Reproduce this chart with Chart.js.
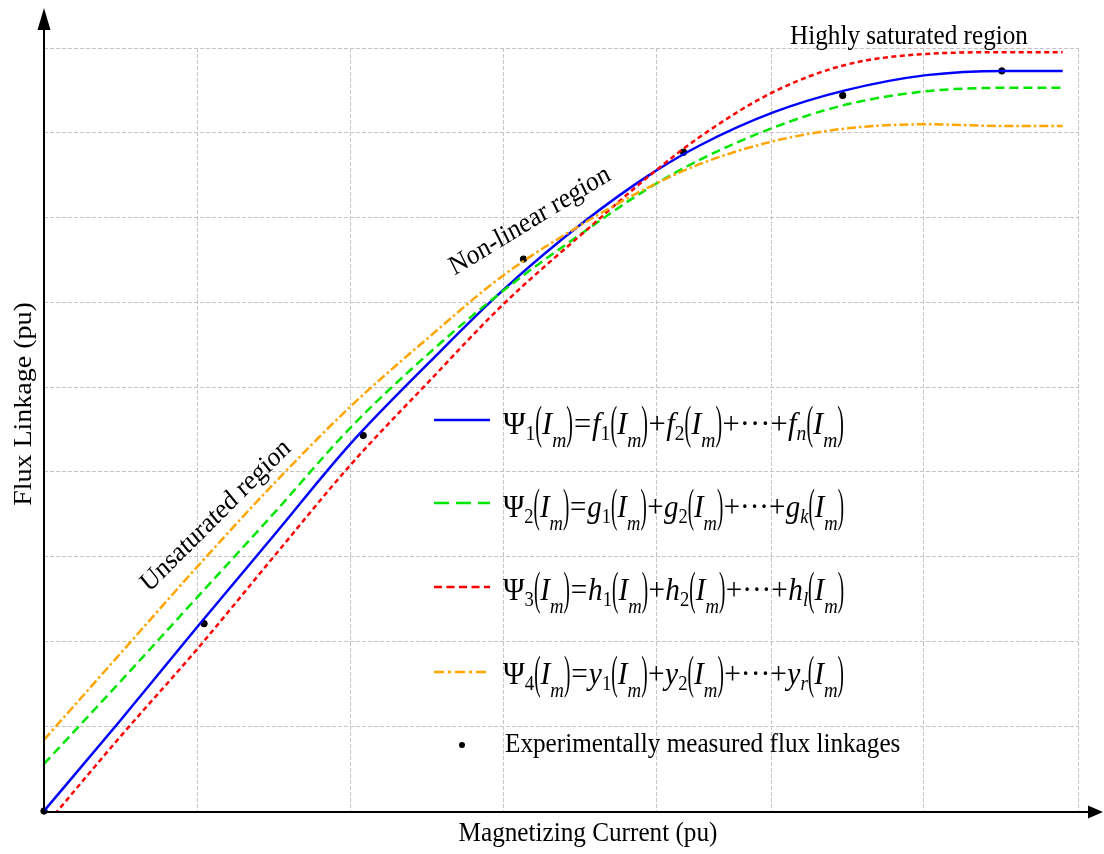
<!DOCTYPE html>
<html>
<head>
<meta charset="utf-8">
<script src="https://cdn.jsdelivr.net/npm/chart.js@4.4.0/dist/chart.umd.min.js"></script>
<style>
  html, body { margin: 0; padding: 0; background: #fff; }
  canvas { display: block; }
</style>
</head>
<body>
<canvas id="fluxChart" width="1104" height="854"></canvas>
<script>
// magnetizing current samples shared by all four fitted curves
const currentValues = [0, 0.49, 1.0, 1.5, 2.0, 2.52, 3.0, 3.54, 3.95, 4.28, 4.76, 5.23, 5.76, 6.27, 6.65];

const psi1Values = [0, 1.05, 2.17, 3.25, 4.33, 5.30, 6.15, 6.97, 7.50, 7.85, 8.24, 8.50, 8.68, 8.73, 8.73];
const psi2Values = [0.555, 1.51, 2.52, 3.51, 4.52, 5.41, 6.14, 6.85, 7.35, 7.68, 8.06, 8.33, 8.49, 8.53, 8.53];
const psi3Values = [-0.19, 0.86, 1.91, 3.0, 4.08, 5.08, 5.98, 6.85, 7.49, 7.95, 8.48, 8.80, 8.93, 8.95, 8.95];
const psi4Values = [0.84, 1.84, 2.88, 3.86, 4.77, 5.60, 6.32, 6.95, 7.36, 7.63, 7.90, 8.05, 8.10, 8.08, 8.08];

// experimentally measured flux linkages
const measuredCurrent = [0, 1.045, 2.084, 3.13, 4.175, 5.214, 6.253];
const measuredFlux = [0, 2.21, 4.43, 6.51, 7.77, 8.44, 8.73];

// grid positions (no tick labels are shown)
const xGridTicks = [0, 1, 2, 3, 4, 4.75, 5.74, 6.75];
const yGridTicks = [0, 1, 2, 3, 4, 5, 6, 7, 8, 9];

const SERIF = "'Liberation Serif', 'Times New Roman', serif";
const SQUEEZE = 0.9;

const toPoints = (xs, ys) => ys.map((y, i) => ({ x: xs[i], y: y }));

function squeezedText(ctx, text, x, y, angle, size, align, baseline) {
  ctx.save();
  ctx.translate(x, y);
  ctx.scale(SQUEEZE, 1);
  ctx.rotate(angle);
  ctx.font = size + 'px ' + SERIF;
  ctx.fillStyle = '#000';
  ctx.textAlign = align || 'left';
  ctx.textBaseline = baseline || 'alphabetic';
  ctx.fillText(text, 0, 0);
  ctx.restore();
}

// formula tokens: plain text, subscripts and tall parentheses
const T = (s, it, pad) => ({ s: s, it: !!it, pad: pad || 0 });
const S = (s, it, dy) => ({ s: s, it: !!it, sub: true, dy: dy });
const P = (s) => ({ s: s, paren: true });

function formulaTokens(idx, fn, lastSub) {
  const im = () => [P('('), T('I', true), S('m', true, 0.4), P(')')];
  return [
    T('\u03A8'), S(idx, false, 0.2), ...im(), T('=', false, 1),
    T(fn, true), S('1', false, 0.2), ...im(), T('+', false, 0.5),
    T(fn, true), S('2', false, 0.2), ...im(), T('+\u00B7\u00B7\u00B7+', false, 0.5),
    T(fn, true), S(lastSub, true, 0.2), ...im()
  ];
}

function drawFormula(ctx, tokens, x, baseline, targetWidth) {
  const F = 32;
  const PX = 0.45;
  const fontOf = (t) => {
    if (t.paren) return (F * 1.45) + 'px ' + SERIF;
    const size = t.sub ? F * 0.64 : F;
    return (t.it ? 'italic ' : '') + size + 'px ' + SERIF;
  };
  let total = 0;
  tokens.forEach((t) => {
    ctx.font = fontOf(t);
    t.w = ctx.measureText(t.s).width * (t.paren ? PX : 1) + 2 * (t.pad || 0);
    total += t.w;
  });
  ctx.save();
  ctx.translate(x, baseline);
  ctx.scale(targetWidth / total, 1);
  ctx.fillStyle = '#000';
  ctx.textBaseline = 'alphabetic';
  ctx.textAlign = 'left';
  let cx = 0;
  tokens.forEach((t) => {
    ctx.font = fontOf(t);
    if (t.paren) {
      ctx.save();
      ctx.translate(cx, 4);
      ctx.scale(PX, 1);
      ctx.fillText(t.s, 0, 0);
      ctx.restore();
    } else {
      ctx.fillText(t.s, cx + (t.pad || 0), t.sub ? F * t.dy : 0);
    }
    cx += t.w;
  });
  ctx.restore();
}

const decorPlugin = {
  id: 'decor',
  afterDraw(chart) {
    const ctx = chart.ctx;
    const area = chart.chartArea;
    const ax = area.left;
    const ay = area.bottom + 1;

    // axes with arrow heads
    ctx.save();
    ctx.strokeStyle = '#000';
    ctx.fillStyle = '#000';
    ctx.lineWidth = 2;
    ctx.beginPath();
    ctx.moveTo(ax, ay + 1);
    ctx.lineTo(ax, 28);
    ctx.moveTo(ax - 1, ay);
    ctx.lineTo(1090, ay);
    ctx.stroke();
    ctx.beginPath();
    ctx.moveTo(ax, 8);
    ctx.lineTo(ax - 6.5, 30);
    ctx.lineTo(ax + 6.5, 30);
    ctx.closePath();
    ctx.fill();
    ctx.beginPath();
    ctx.moveTo(1103, ay);
    ctx.lineTo(1088, ay - 6.5);
    ctx.lineTo(1088, ay + 6.5);
    ctx.closePath();
    ctx.fill();
    ctx.restore();

    // axis titles
    squeezedText(ctx, 'Magnetizing Current (pu)', 588, 841, 0, 28, 'center');
    squeezedText(ctx, 'Flux Linkage (pu)', 31, 404, -Math.PI / 2, 28, 'center');

    // region annotations
    squeezedText(ctx, 'Highly saturated region', 790, 44, 0, 28, 'left');
    squeezedText(ctx, 'Non-linear region', 530, 221, -28.9 * Math.PI / 180, 28, 'center', 'middle');
    squeezedText(ctx, 'Unsaturated region', 216, 516, -42 * Math.PI / 180, 28, 'center', 'middle');

    // legend
    const rows = [
      { color: '#0000ff', dash: [], y: 420, tokens: formulaTokens('1', 'f', 'n'), base: 434 },
      { color: '#00e600', dash: [15, 7], y: 503, tokens: formulaTokens('2', 'g', 'k'), base: 517 },
      { color: '#ff0000', dash: [8, 4.5], y: 587, tokens: formulaTokens('3', 'h', 'l'), base: 600 },
      { color: '#ffa500', dash: [10, 4, 3, 4], y: 672, tokens: formulaTokens('4', 'y', 'r'), base: 684 }
    ];
    rows.forEach((r) => {
      ctx.save();
      ctx.strokeStyle = r.color;
      ctx.lineWidth = 2.5;
      ctx.setLineDash(r.dash);
      ctx.beginPath();
      ctx.moveTo(434, r.y);
      ctx.lineTo(490, r.y);
      ctx.stroke();
      ctx.restore();
      drawFormula(ctx, r.tokens, 503, r.base, 341);
    });
    ctx.save();
    ctx.fillStyle = '#000';
    ctx.beginPath();
    ctx.arc(462, 745, 3, 0, Math.PI * 2);
    ctx.fill();
    ctx.restore();
    squeezedText(ctx, 'Experimentally measured flux linkages', 505, 752, 0, 28, 'left');
  }
};

const lineStyle = {
  showLine: true,
  pointRadius: 0,
  borderWidth: 2.5,
  fill: false,
  cubicInterpolationMode: 'monotone'
};

new Chart(document.getElementById('fluxChart').getContext('2d'), {
  type: 'scatter',
  data: {
    datasets: [
      Object.assign({}, lineStyle, {
        label: 'Psi4',
        data: toPoints(currentValues, psi4Values),
        borderColor: '#ffa500',
        borderDash: [9, 3, 2.5, 3]
      }),
      Object.assign({}, lineStyle, {
        label: 'Psi3',
        data: toPoints(currentValues, psi3Values),
        borderColor: '#ff0000',
        borderDash: [5, 3.5]
      }),
      Object.assign({}, lineStyle, {
        label: 'Psi2',
        data: toPoints(currentValues, psi2Values),
        borderColor: '#00e600',
        borderDash: [9, 5]
      }),
      Object.assign({}, lineStyle, {
        label: 'Psi1',
        data: toPoints(currentValues, psi1Values),
        borderColor: '#0000ff'
      }),
      {
        label: 'Measured',
        data: toPoints(measuredCurrent, measuredFlux),
        showLine: false,
        pointRadius: 3.2,
        pointBackgroundColor: '#000',
        pointBorderColor: '#000',
        clip: false
      }
    ]
  },
  options: {
    responsive: false,
    animation: false,
    layout: {
      padding: { left: 44, right: 26, top: 48, bottom: 43 }
    },
    scales: {
      x: {
        type: 'linear',
        min: 0,
        max: 6.75,
        afterBuildTicks: (scale) => {
          scale.ticks = xGridTicks.map((v) => ({ value: v }));
        },
        ticks: { display: false },
        grid: { color: '#c4c4c4', lineWidth: 1, drawTicks: false },
        border: { display: false, dash: [4, 2] }
      },
      y: {
        type: 'linear',
        min: 0,
        max: 9,
        afterBuildTicks: (scale) => {
          scale.ticks = yGridTicks.map((v) => ({ value: v }));
        },
        ticks: { display: false },
        grid: { color: '#c4c4c4', lineWidth: 1, drawTicks: false },
        border: { display: false, dash: [4, 2] }
      }
    },
    plugins: {
      legend: { display: false },
      tooltip: { enabled: false }
    }
  },
  plugins: [decorPlugin]
});
</script>
</body>
</html>
